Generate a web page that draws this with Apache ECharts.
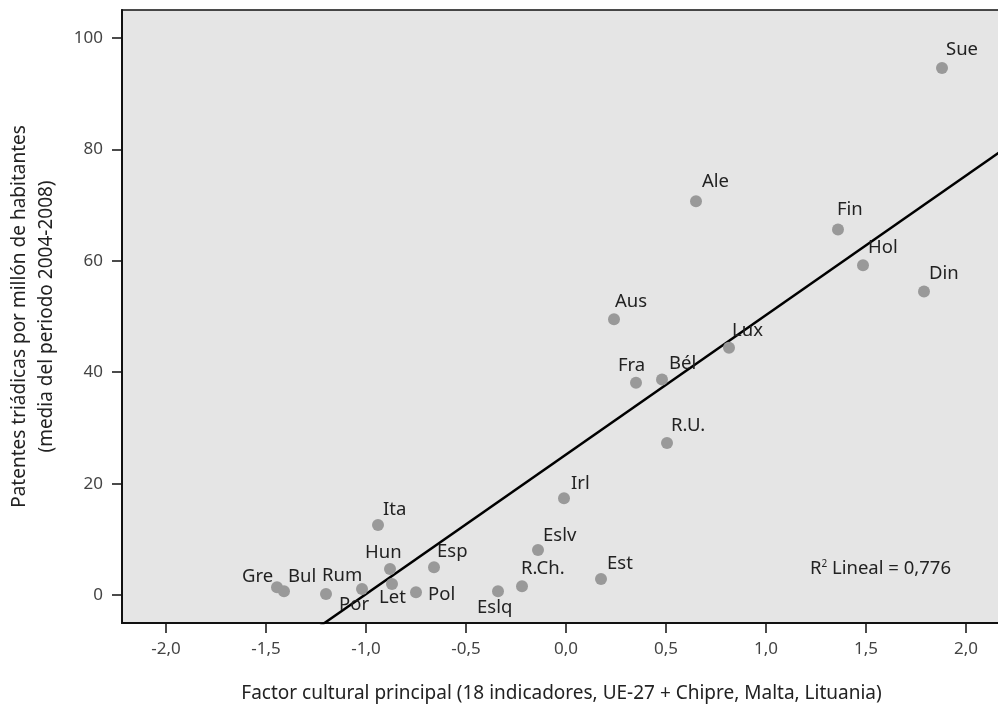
<!DOCTYPE html>
<html>
<head>
<meta charset="utf-8">
<script src="https://cdn.jsdelivr.net/npm/echarts@6/dist/echarts.min.js"></script>
<style>
html,body{margin:0;padding:0;background:#fff;}
#c{width:998px;height:705px;}
</style>
</head>
<body>
<div id="c"></div>
<script>
// ---- data ----
const countries = ['Sue','Ale','Fin','Hol','Din','Aus','Lux','Bél','Fra','R.U.','Irl','Ita','Eslv','Hun','Esp','Est','Let','R.Ch.','Gre','Bul','Rum','Por','Pol','Eslq'];
const culturalFactor = [1.88,0.65,1.36,1.485,1.79,0.24,0.815,0.48,0.35,0.505,-0.01,-0.94,-0.14,-0.88,-0.66,0.175,-0.87,-0.22,-1.445,-1.41,-1.20,-1.02,-0.75,-0.34];
const patents = [94.6,70.7,65.6,59.2,54.5,49.5,44.4,38.7,38.1,27.3,17.4,12.6,8.1,4.7,5.0,2.9,2.0,1.6,1.4,0.7,0.2,1.1,0.5,0.7];
const xTicks = [-2,-1.5,-1,-0.5,0,0.5,1,1.5,2];
const yTicks = [0,20,40,60,80,100];
const rSquaredText = '0,776';

// label placement (offset from point centre, px)
const labelOffsets = {
  'Sue':[4,-18],'Ale':[6,-19],'Fin':[-1,-20],'Hol':[5,-17],'Din':[5,-18],'Aus':[1,-18],
  'Lux':[3,-17],'Bél':[7,-16],'Fra':[-18,-17],'R.U.':[4,-17],'Irl':[7,-14],'Ita':[5,-15],
  'Eslv':[5,-14],'Hun':[-25,-16],'Esp':[3,-16],'Est':[6,-15],'Let':[-13,14],'R.Ch.':[-1,-17],
  'Gre':[-35,-11],'Bul':[4,-15],'Rum':[-4,-18],'Por':[-23,16],'Pol':[12,2],'Eslq':[-21,16]
};

const X_MIN = -2.22, X_MAX = 2.175, Y_MIN = -5, Y_MAX = 105;

// least-squares fit
const n = culturalFactor.length;
let sx=0, sy=0;
for (let i=0;i<n;i++){ sx+=culturalFactor[i]; sy+=patents[i]; }
const mx = sx/n, my = sy/n;
let sxy=0, sxx=0;
for (let i=0;i<n;i++){ sxy+=(culturalFactor[i]-mx)*(patents[i]-my); sxx+=(culturalFactor[i]-mx)**2; }
const slope = sxy/sxx, intercept = my - slope*mx;
const fitLine = [[X_MIN, intercept+slope*X_MIN],[X_MAX, intercept+slope*X_MAX]];

const FONT = 'Noto Sans';
const points = countries.map((c,i)=>({
  value:[culturalFactor[i], patents[i]],
  name:c,
  label:{offset:labelOffsets[c]}
}));

const chart = echarts.init(document.getElementById('c'), null, {renderer:'canvas'});
chart.setOption({
  animation:false,
  backgroundColor:'#ffffff',
  grid:{left:122, top:10, right:-3, bottom:82, outerBoundsMode:'none', containLabel:false,
    show:true, backgroundColor:'#e5e5e5', borderColor:'#111', borderWidth:1.5},
  xAxis:{
    type:'value', min:X_MIN, max:X_MAX,
    name:'Factor cultural principal (18 indicadores, UE-27 + Chipre, Malta, Lituania)',
    nameLocation:'middle', nameGap:61,
    nameTextStyle:{fontFamily:FONT, fontSize:19, color:'#222'},
    axisLine:{show:true, onZero:false, lineStyle:{color:'#111', width:2}},
    axisTick:{show:true, customValues:xTicks, length:10, lineStyle:{color:'#111', width:1.5}},
    axisLabel:{customValues:xTicks, margin:18, fontFamily:FONT, fontSize:17, color:'#444',
      formatter:v=>v.toFixed(1).replace('.',',')},
    splitLine:{show:false}
  },
  yAxis:{
    type:'value', min:Y_MIN, max:Y_MAX,
    name:'Patentes triádicas por millón de habitantes\n(media del periodo 2004-2008)',
    nameLocation:'middle', nameGap:62,
    nameTextStyle:{fontFamily:FONT, fontSize:19, color:'#222', lineHeight:27},
    axisLine:{show:true, onZero:false, lineStyle:{color:'#111', width:2}},
    axisTick:{show:true, customValues:yTicks, length:10, lineStyle:{color:'#111', width:1.5}},
    axisLabel:{customValues:yTicks, margin:19, fontFamily:FONT, fontSize:17, color:'#444'},
    splitLine:{show:false}
  },
  series:[
    {
      type:'line', data:fitLine, symbol:'none', silent:true, clip:true,
      lineStyle:{color:'#000', width:2.5}, z:3
    },
    {
      type:'scatter', data:points, symbolSize:12, z:4,
      itemStyle:{color:'#999999', opacity:1},
      label:{show:true, position:'inside', align:'left', verticalAlign:'middle',
        formatter:p=>p.name, fontFamily:FONT, fontSize:18.5, color:'#222'}
    }
  ],
  graphic:[{
    type:'text', left:810, top:559, z:10,
    style:{
      text:'{r|R}{s|2}{r| Lineal = '+rSquaredText+'}',
      rich:{
        r:{fontFamily:FONT, fontSize:18.5, fill:'#222', color:'#222'},
        s:{fontFamily:FONT, fontSize:10, fill:'#222', color:'#222', verticalAlign:'top', padding:[0,0,9,0]}
      }
    }
  }]
});
</script>
</body>
</html>
